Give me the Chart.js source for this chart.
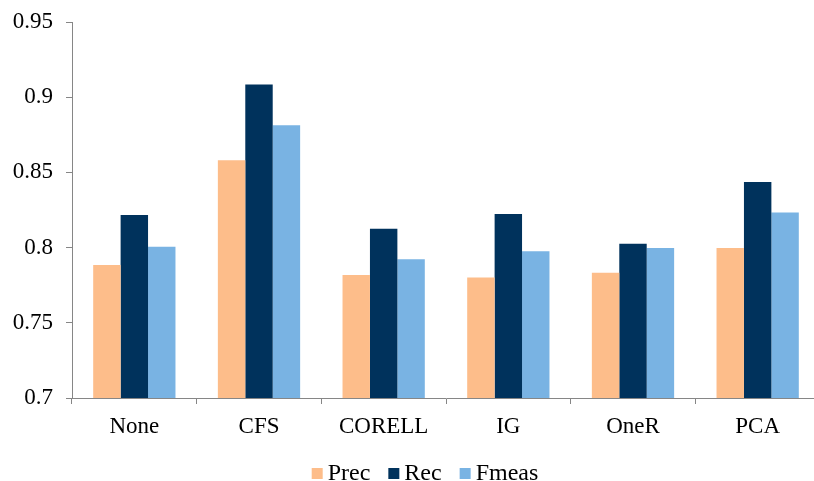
<!DOCTYPE html>
<html>
<head>
<meta charset="utf-8">
<script src="https://cdn.jsdelivr.net/npm/chart.js@4"></script>
<style>
  html, body { margin: 0; padding: 0; background: #fff; overflow: hidden; }
  #wrap { width: 850px; height: 495px; position: relative; }
</style>
</head>
<body>
<div id="wrap"><canvas id="c" width="850" height="495"></canvas></div>
<script>
// Feature-selection methods and their precision / recall / F-measure
const methods = ['None', 'CFS', 'CORELL', 'IG', 'OneR', 'PCA'];
const prec  = [0.7885, 0.858, 0.7817, 0.7801, 0.7832, 0.7998];
const rec   = [0.8216, 0.9085, 0.8125, 0.8224, 0.8026, 0.8436];
const fmeas = [0.8005, 0.8813, 0.7922, 0.7975, 0.7998, 0.8234];
const yTickLabels = ['0.7', '0.75', '0.8', '0.85', '0.9', '0.95'];

const serif = "'Liberation Serif', 'Times New Roman', Times, serif";
const axisGray = '#868686';

// Compact legend row: small square, tight gap, then the series name
const compactLegend = {
  id: 'compactLegend',
  afterDraw(chart) {
    const ctx = chart.ctx;
    const box = 11, gap = 5, itemGap = 18;
    const midY = 473.5;
    ctx.save();
    ctx.font = '24px ' + serif;
    const items = chart.data.datasets.map(ds => ({
      text: ds.label, color: ds.backgroundColor, w: ctx.measureText(ds.label).width
    }));
    const total = items.reduce((s, it) => s + box + gap + it.w, 0) + itemGap * (items.length - 1);
    let x = chart.width / 2 - total / 2;
    ctx.textBaseline = 'middle';
    ctx.textAlign = 'left';
    items.forEach(it => {
      ctx.fillStyle = it.color;
      ctx.fillRect(x, Math.round(midY - box / 2), box, box);
      ctx.fillStyle = '#000';
      ctx.fillText(it.text, x + box + gap, midY);
      x += box + gap + it.w + itemGap;
    });
    ctx.restore();
  }
};

new Chart(document.getElementById('c'), {
  type: 'bar',
  data: {
    labels: methods,
    datasets: [
      { label: 'Prec',  data: prec,  backgroundColor: '#FDBD8A' },
      { label: 'Rec',   data: rec,   backgroundColor: '#00325C' },
      { label: 'Fmeas', data: fmeas, backgroundColor: '#79B3E3' }
    ]
  },
  plugins: [compactLegend],
  options: {
    responsive: false,
    animation: false,
    devicePixelRatio: 1,
    layout: { padding: { top: 22, right: 30, bottom: 41, left: 0 } },
    datasets: { bar: { categoryPercentage: 0.66, barPercentage: 1.0, borderWidth: 0 } },
    plugins: {
      tooltip: { enabled: false },
      legend: { display: false }
    },
    scales: {
      x: {
        offset: true,
        grid: { display: true, offset: true, drawOnChartArea: false, drawTicks: true, tickLength: 6, color: axisGray },
        border: { display: true, color: axisGray, width: 1 },
        ticks: { color: '#000', padding: 9, font: { family: serif, size: 23 } },
        afterFit: s => { s.height = 56; }
      },
      y: {
        min: 0.7,
        max: 0.95,
        grid: { display: true, drawOnChartArea: false, drawTicks: true, tickLength: 6, color: axisGray },
        border: { display: true, color: axisGray, width: 1 },
        ticks: {
          stepSize: 0.05,
          color: '#000',
          padding: 13,
          font: { family: serif, size: 23 },
          callback: (v, i) => yTickLabels[i]
        },
        afterFit: s => { s.width = 72; s.paddingTop = 0; }
      }
    }
  }
});
</script>
</body>
</html>
